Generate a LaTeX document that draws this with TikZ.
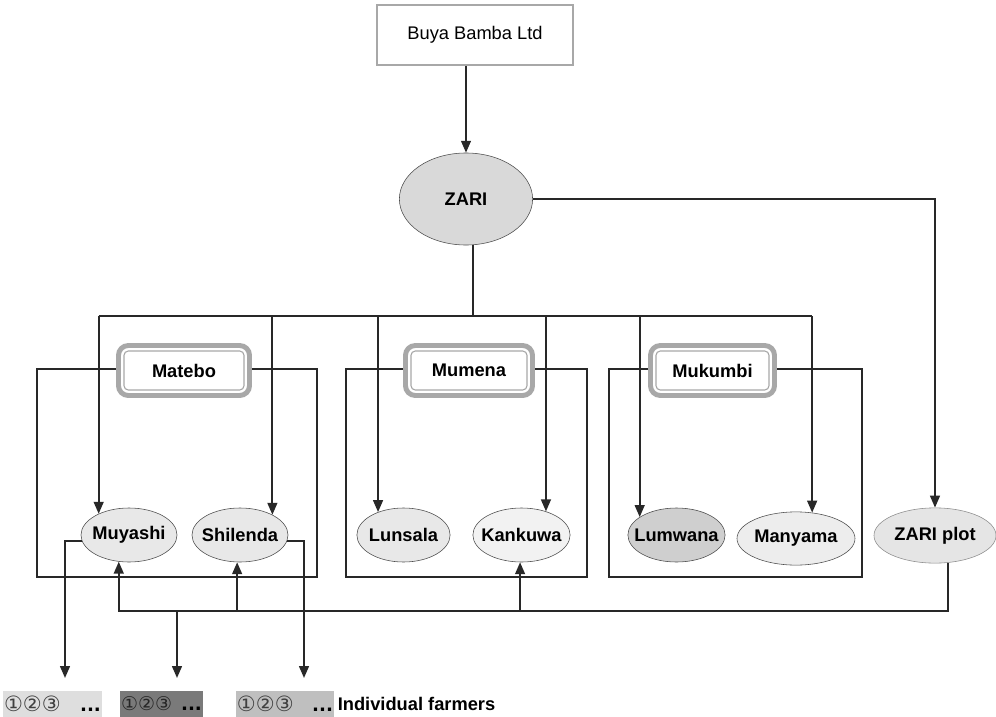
\documentclass[tikz,border=0pt]{standalone}
\usepackage{fontspec}
\setmainfont{Liberation Sans}
\newfontfamily\circledfont{DejaVu Sans}
\definecolor{bandGray}{RGB}{168, 168, 168}
\definecolor{lineGray}{RGB}{40, 40, 40}
\usetikzlibrary{
    arrows.meta,
    positioning,
    shapes.geometric
}

\begin{document}
\begin{tikzpicture}[
        x=0.025cm, y=-0.025cm,
        >={Triangle[length=8.5pt, width=7pt]},
        every node/.style={font=\fontsize{13}{15}\selectfont},
        firmnode/.style={rectangle, draw=bandGray, line width=1.4pt, minimum width=4.9cm, minimum height=1.5cm},
        sitenode/.style={ellipse, draw=black!70, fill=#1, inner xsep=-0.5cm, inner ysep=0pt,
            minimum width=2.4cm, minimum height=1.35cm, font=\fontsize{13}{15}\selectfont\bfseries},
        groupnode/.style={rectangle, draw=lineGray, line width=0.9pt, minimum height=5.2cm, inner sep=0pt},
        campnode/.style={rectangle, rounded corners=7pt, draw=bandGray, line width=3.5pt, fill=white,
            minimum height=1.25cm, inner sep=0pt, font=\fontsize{13}{15}\selectfont\bfseries},
        flocknode/.style={rectangle, fill=#1, minimum height=0.65cm, inner xsep=1pt, inner ysep=0pt},
        wire/.style={draw=lineGray, line width=1.3pt},
    ]
    \useasboundingbox (0,0) rectangle (996,717);

    \begin{scope}
        \node[firmnode] (buya) at (475,35) {Buya Bamba Ltd};
        \node[sitenode=black!15, minimum width=3.33cm, minimum height=2.3cm] (zari) at (466,199) {ZARI};

        \node[groupnode, minimum width=7cm] (grp_matebo) at (177,473) {};
        \node[groupnode, minimum width=6.025cm] (grp_mumena) at (466.5,473) {};
        \node[groupnode, minimum width=6.325cm] (grp_mukumbi) at (735.5,473) {};

        \node[campnode, minimum width=3.275cm] (camp_matebo) at (184,370.5) {Matebo};
        \node[campnode, minimum width=3.175cm] (camp_mumena) at (469,370.5) {Mumena};
        \node[campnode, minimum width=3.1cm] (camp_mukumbi) at (712.5,370.5) {Mukumbi};

        \node[sitenode=black!9] (site_muyashi) at (129,535) {Muyashi};
        \node[sitenode=black!9] (site_shilenda) at (240,535) {Shilenda};
        \node[sitenode=black!9, minimum width=2.33cm] (site_lunsala) at (403.5,535) {Lunsala};
        \node[sitenode=black!5, minimum width=2.43cm] (site_kankuwa) at (521.5,535) {Kankuwa};
        \node[sitenode=black!19, minimum width=2.43cm] (site_lumwana) at (676.5,535) {Lumwana};
        \node[sitenode=black!7, minimum width=2.95cm, minimum height=1.33cm] (site_manyama) at (796,538.5) {Manyama};
        \node[sitenode=black!10, draw=black!45, minimum width=3.05cm, minimum height=1.38cm] (site_zariplot) at (935,535.5) {ZARI plot};

        \node[flocknode=black!13] (farm_a) at (52.5,704) {\makebox[2.42cm]{\fontsize{15}{15}\circledfont\color{black!75}①②③\hfill\fontsize{13}{15}\selectfont\color{black}\bfseries ...}};
        \node[flocknode=black!52] (farm_b) at (161.5,704) {\makebox[2.02cm]{\fontsize{13.5}{15}\circledfont\color{black!85}①②③\hfill\fontsize{13}{15}\selectfont\color{black}\bfseries ...}};
        \node[flocknode=black!25] (farm_c) at (285,704) {\makebox[2.4cm]{\fontsize{15}{15}\circledfont\color{black!75}①②③\hfill\fontsize{13}{15}\selectfont\color{black}\bfseries ...}};
        \node[right=1pt of farm_c, font=\fontsize{13}{15}\selectfont\bfseries, inner sep=1pt] (lbl_farmers) {Individual farmers};

        \coordinate (split) at (0,316);
        \coordinate (loop) at (0,611);
        \coordinate (drop_a) at (65,678);
        \coordinate (drop_b) at (177,678);
        \coordinate (drop_c) at (304,678);
    \end{scope}

    % inner line of the camp labels
    \foreach \c in {camp_matebo, camp_mumena, camp_mukumbi}
        \draw[bandGray, line width=0.8pt, rounded corners=3pt]
            ([shift={(8,8)}]\c.north west) rectangle ([shift={(-8,-8)}]\c.south east);

    \begin{scope} [every edge/.style={wire}]
        \path [->] (zari.north |- buya.south) edge (zari.north);
        \path (zari.-81) edge (zari.-81 |- split);
        \path (site_muyashi.145 |- split) edge (site_manyama.58 |- split);
        \foreach \s/\a in {muyashi/145, shilenda/32, lunsala/138, kankuwa/44, lumwana/154, manyama/58}
            \path [->] (site_\s.\a |- split) edge (site_\s.\a);
        \foreach \s/\a in {shilenda/264, kankuwa/267}
            \path [->] (site_\s.\a |- loop) edge (site_\s.\a);
        \path [->] (drop_b |- loop) edge (drop_b);
    \end{scope}

    \draw[wire, ->] (zari.east) -| (site_zariplot.north);
    \draw[wire, ->] (site_zariplot.-64) |- (site_muyashi.249 |- loop) -- (site_muyashi.249);
    \draw[wire, ->] (site_muyashi.187) -| (drop_a);
    \draw[wire, ->] (site_shilenda.-7) -| (drop_c);
\end{tikzpicture}
\end{document}
